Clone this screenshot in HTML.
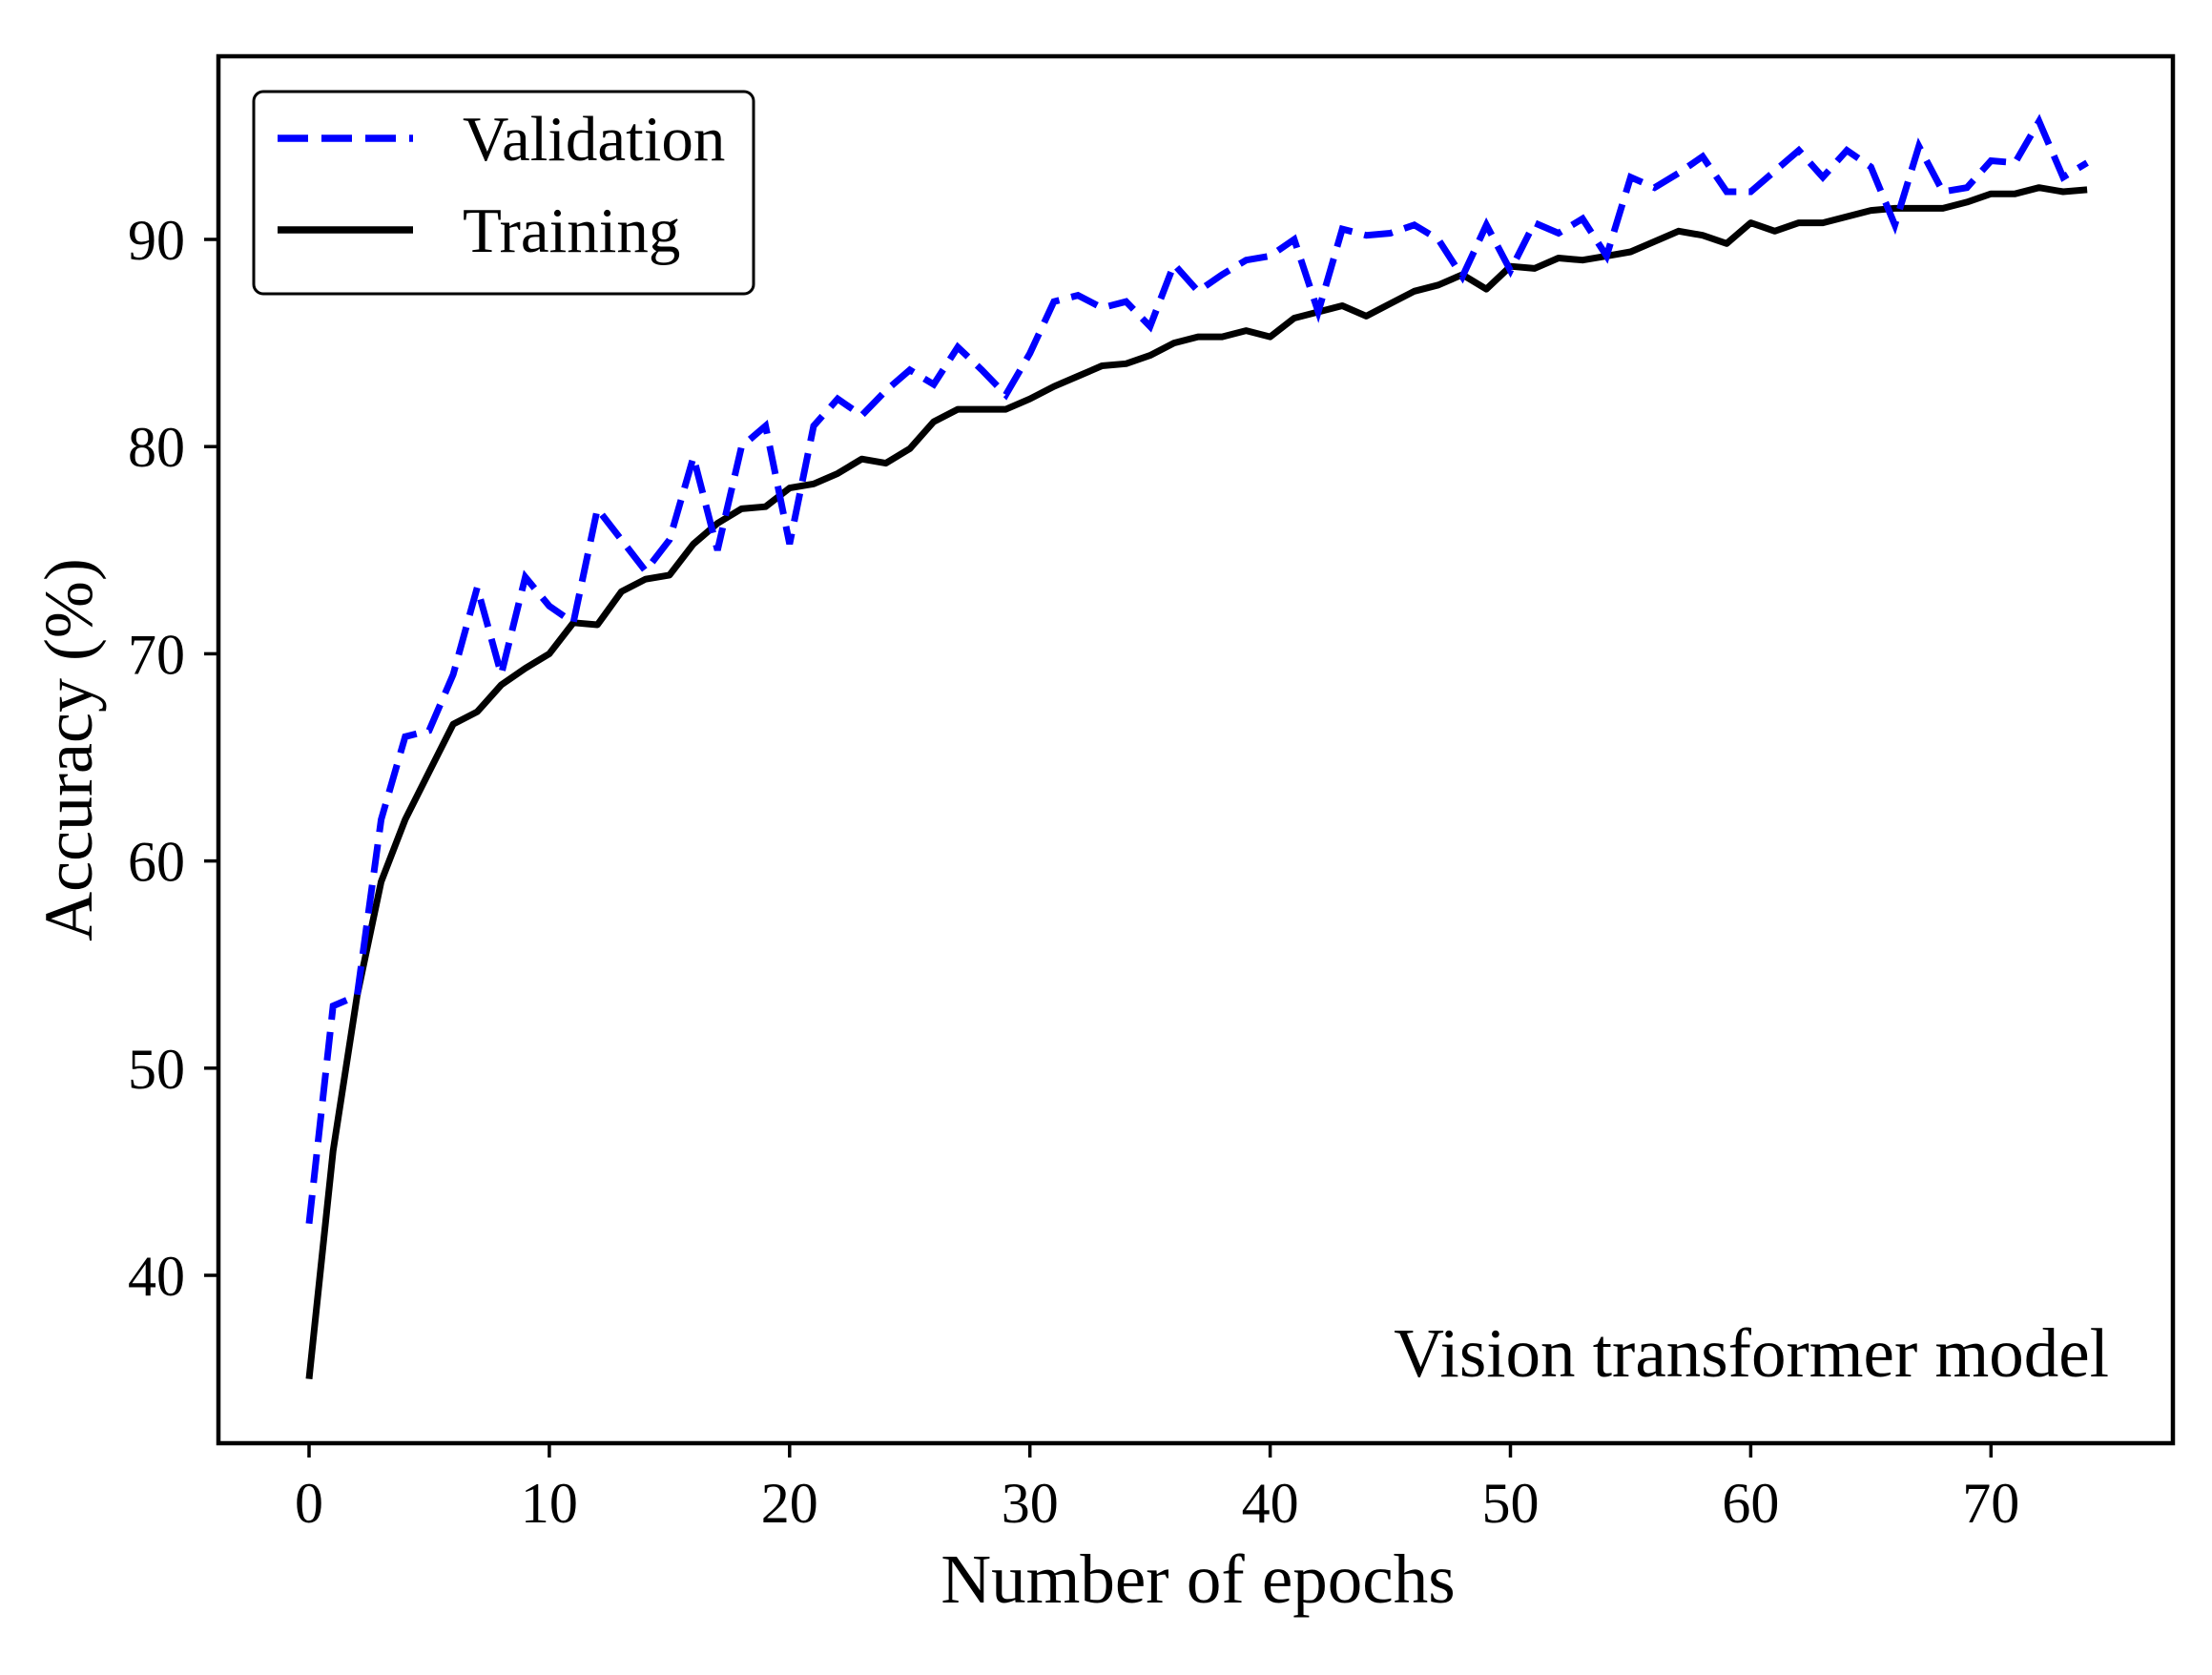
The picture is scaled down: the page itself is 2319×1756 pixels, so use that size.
<!DOCTYPE html>
<html><head><meta charset="utf-8"><style>
html,body{margin:0;padding:0;background:#fff}
svg text{font-family:"Liberation Serif",serif;fill:#000}
</style></head><body>
<svg id="chart" width="2319" height="1751" viewBox="0 0 2319 1751" xmlns="http://www.w3.org/2000/svg">
<g id="axes"></g>
<g id="series"></g>
<rect x="229" y="59" width="2049" height="1454" fill="none" stroke="#000" stroke-width="4.5"/>
<g>
<rect x="266" y="96" width="524" height="212" rx="10" fill="#fff" stroke="#000" stroke-width="3"/>
<line x1="291" y1="145" x2="433" y2="145" stroke="#0000ff" stroke-width="7.5" stroke-dasharray="32,14"/>
<text x="485" y="168" font-size="67">Validation</text>
<line x1="291" y1="241" x2="433" y2="241" stroke="#000" stroke-width="7.5"/>
<text x="485" y="264" font-size="67">Training</text>
</g>
<text x="2211" y="1443" font-size="73" text-anchor="end">Vision transformer model</text>
<text x="1256" y="1680" font-size="73" text-anchor="middle">Number of epochs</text>
<text x="0" y="0" font-size="72" text-anchor="middle" transform="translate(96,786) rotate(-90)">Accuracy (%)</text>
</svg>
<script>
const xTicks=[0,10,20,30,40,50,60,70];
const yTicks=[40,50,60,70,80,90];
const validation=[42.5,53,53.5,62,66,66.3,69,73.2,69,73.7,72.3,71.5,77,75.5,74,75.5,79.5,75,80,81,75.3,81,82.3,81.5,82.7,83.7,83,84.8,83.7,82.5,84.5,87,87.3,86.7,87,85.8,88.8,87.5,88.3,89,89.2,90,86.5,90.5,90.2,90.3,90.7,90,88.2,90.7,88.5,90.8,90.3,91,89.2,93,92.5,93.2,94,92.3,92.3,93.3,94.3,93,94.3,93.5,90.7,94.5,92.3,92.5,93.8,93.7,95.7,93,93.7];
const training=[35,46,53.5,59,62,64.3,66.6,67.2,68.5,69.3,70,71.5,71.4,73,73.6,73.8,75.3,76.3,77,77.1,78,78.2,78.7,79.4,79.2,79.9,81.2,81.8,81.8,81.8,82.3,82.9,83.4,83.9,84,84.4,85,85.3,85.3,85.6,85.3,86.2,86.5,86.8,86.3,86.9,87.5,87.8,88.3,87.6,88.7,88.6,89.1,89,89.2,89.4,89.9,90.4,90.2,89.8,90.8,90.4,90.8,90.8,91.1,91.4,91.5,91.5,91.5,91.8,92.2,92.2,92.5,92.3,92.4];
const NS='http://www.w3.org/2000/svg';
function xs(v){return 324+v*25.19;}
function ys(v){return 251+(90-v)*21.72;}
const axes=document.getElementById('axes');
const ser=document.getElementById('series');
xTicks.forEach(t=>{
 const l=document.createElementNS(NS,'line');
 
 
 l.setAttribute('x1',xs(t));l.setAttribute('x2',xs(t));l.setAttribute('y1',1513);l.setAttribute('y2',1528);
 l.setAttribute('stroke','#000');l.setAttribute('stroke-width','3.5');axes.appendChild(l);
 const tx=document.createElementNS(NS,'text');
 
 
 tx.setAttribute('x',xs(t));tx.setAttribute('y',1596);tx.setAttribute('font-size','60');tx.setAttribute('text-anchor','middle');
 tx.textContent=t;axes.appendChild(tx);
});
yTicks.forEach(t=>{
 const l=document.createElementNS(NS,'line');
 
 
 l.setAttribute('x1',214);l.setAttribute('x2',229);l.setAttribute('y1',ys(t));l.setAttribute('y2',ys(t));
 l.setAttribute('stroke','#000');l.setAttribute('stroke-width','3.5');axes.appendChild(l);
 const tx=document.createElementNS(NS,'text');
 
 
 tx.setAttribute('x',194);tx.setAttribute('y',ys(t)+21);tx.setAttribute('font-size','60');tx.setAttribute('text-anchor','end');
 tx.textContent=t;axes.appendChild(tx);
});
function path(arr){return arr.map((v,i)=>(i?'L':'M')+xs(i).toFixed(1)+','+ys(v).toFixed(1)).join(' ');}
const pt=document.createElementNS(NS,'path');


pt.setAttribute('d',path(training));pt.setAttribute('fill','none');pt.setAttribute('stroke','#000');pt.setAttribute('stroke-width','7');pt.setAttribute('stroke-linejoin','round');
ser.appendChild(pt);
const pv=document.createElementNS(NS,'path');


pv.setAttribute('d',path(validation));pv.setAttribute('fill','none');pv.setAttribute('stroke','#0000ff');pv.setAttribute('stroke-width','7');pv.setAttribute('stroke-dasharray','30,13');
ser.appendChild(pv);
</script>
</body></html>
